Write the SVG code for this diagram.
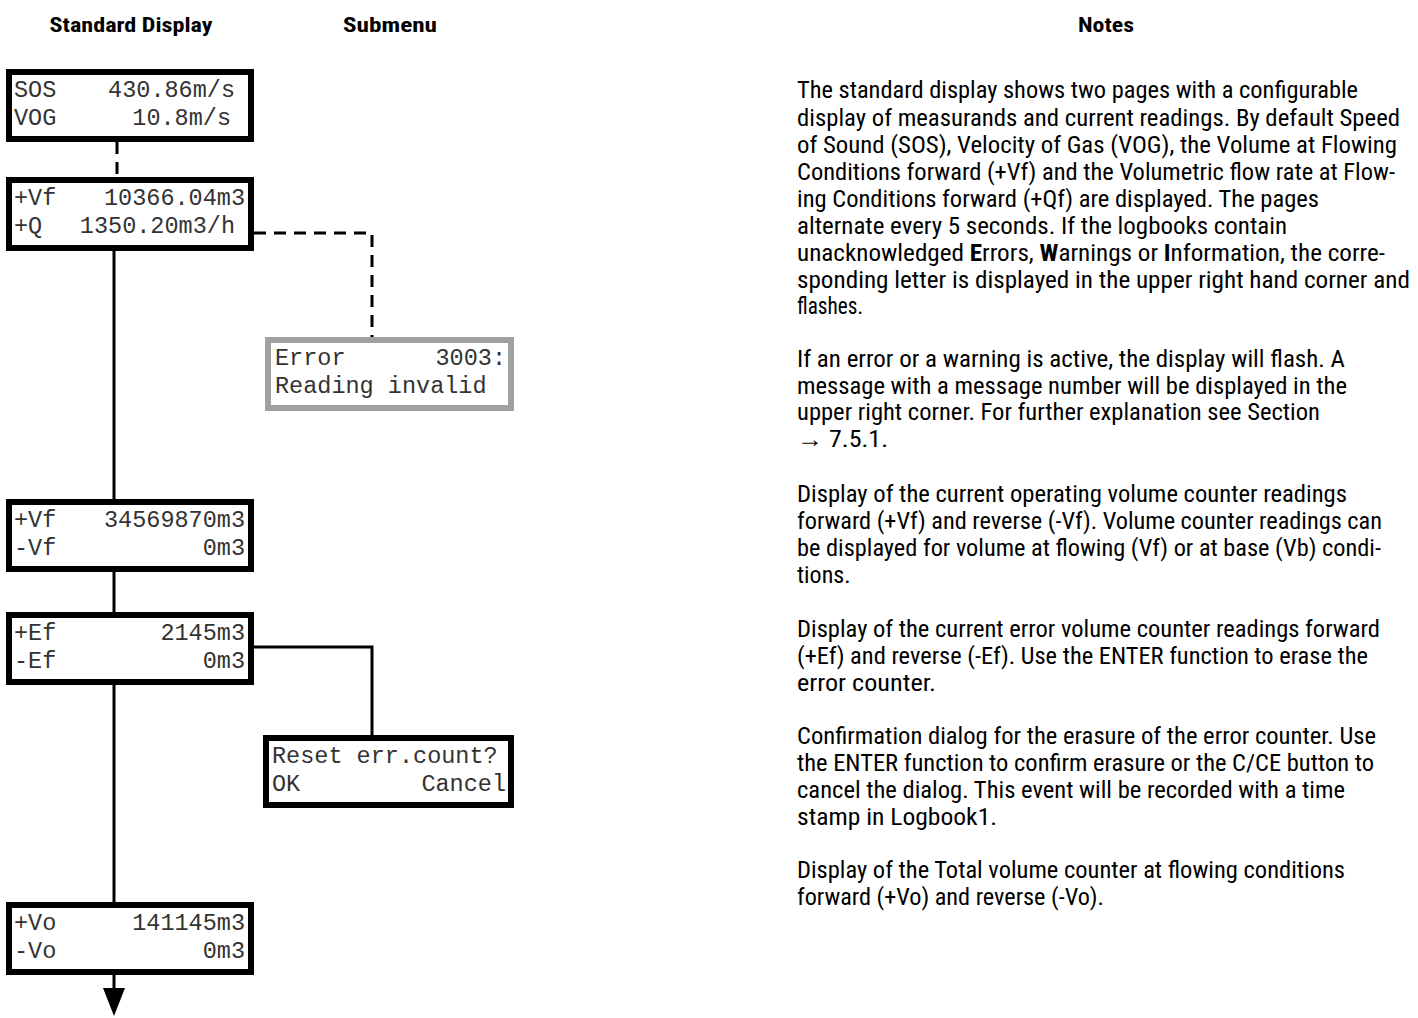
<svg xmlns="http://www.w3.org/2000/svg" width="1418" height="1018" viewBox="0 0 1418 1018">
<style>
.box{fill:#fff;stroke:#000;stroke-width:6}
.gbox{fill:#fff;stroke:#a0a0a0;stroke-width:6}
.lcd{font-family:"Liberation Mono","Courier New",monospace;font-size:23.5px;fill:#333}
.r{text-anchor:end}
.hd{font-family:"Liberation Sans Narrow","Roboto Condensed","Liberation Sans",sans-serif;font-weight:bold;font-size:21px;fill:#000;text-anchor:middle}
.nt{font-family:"Liberation Sans Narrow","Roboto Condensed","Liberation Sans",sans-serif;font-size:24px;fill:#000}
.ln{fill:none;stroke:#000;stroke-width:3}
.dl{fill:none;stroke:#000;stroke-width:3;stroke-dasharray:12 8}
</style>
<g id="headers">
<text class="hd" x="131" y="32" textLength="163" lengthAdjust="spacingAndGlyphs">Standard Display</text>
<text class="hd" x="390" y="32" textLength="94" lengthAdjust="spacingAndGlyphs">Submenu</text>
<text class="hd" x="1106" y="32" textLength="56" lengthAdjust="spacingAndGlyphs">Notes</text>
</g>
<g id="connectors">
<path class="dl" d="M117,142 V177"/>
<path class="dl" d="M254,233 H372 V337"/>
<path class="ln" d="M114,251 V499 M114,572 V612 M114,685 V902 M114,975 V990"/>
<path class="ln" d="M254,647 H372 V735"/>
<polygon points="103,988 125,988 114,1016" fill="#000"/>
</g>
<g id="n-sos">
<rect class="box" x="9" y="72" width="242" height="67"/>
<text class="lcd" x="14" y="97">SOS</text><text class="lcd r" x="235" y="97">430.86m/s</text>
<text class="lcd" x="14" y="125">VOG</text><text class="lcd r" x="231" y="125">10.8m/s</text>
</g>
<g id="n-vf-q">
<rect class="box" x="9" y="180" width="242" height="68"/>
<text class="lcd" x="14" y="205">+Vf</text><text class="lcd r" x="245" y="205">10366.04m3</text>
<text class="lcd" x="14" y="233">+Q</text><text class="lcd r" x="235" y="233">1350.20m3/h</text>
</g>
<g id="n-error">
<rect class="gbox" x="268" y="340" width="243" height="68"/>
<text class="lcd" x="275" y="365">Error</text><text class="lcd r" x="506" y="365">3003:</text>
<text class="lcd" x="275" y="393">Reading invalid</text>
</g>
<g id="n-vf">
<rect class="box" x="9" y="502" width="242" height="67"/>
<text class="lcd" x="14" y="527">+Vf</text><text class="lcd r" x="245" y="527">34569870m3</text>
<text class="lcd" x="14" y="555">-Vf</text><text class="lcd r" x="245" y="555">0m3</text>
</g>
<g id="n-ef">
<rect class="box" x="9" y="615" width="242" height="67"/>
<text class="lcd" x="14" y="640">+Ef</text><text class="lcd r" x="245" y="640">2145m3</text>
<text class="lcd" x="14" y="668">-Ef</text><text class="lcd r" x="245" y="668">0m3</text>
</g>
<g id="n-reset">
<rect class="box" x="266" y="738" width="245" height="67"/>
<text class="lcd" x="272" y="763">Reset err.count?</text>
<text class="lcd" x="272" y="791">OK</text><text class="lcd r" x="506" y="791">Cancel</text>
</g>
<g id="n-vo">
<rect class="box" x="9" y="905" width="242" height="67"/>
<text class="lcd" x="14" y="930">+Vo</text><text class="lcd r" x="245" y="930">141145m3</text>
<text class="lcd" x="14" y="958">-Vo</text><text class="lcd r" x="245" y="958">0m3</text>
</g>
<g id="notes">
<text class="nt" x="797" y="98" textLength="561" lengthAdjust="spacingAndGlyphs">The standard display shows two pages with a configurable</text>
<text class="nt" x="797" y="126" textLength="603" lengthAdjust="spacingAndGlyphs">display of measurands and current readings. By default Speed</text>
<text class="nt" x="797" y="153" textLength="600" lengthAdjust="spacingAndGlyphs">of Sound (SOS), Velocity of Gas (VOG), the Volume at Flowing</text>
<text class="nt" x="797" y="180" textLength="598" lengthAdjust="spacingAndGlyphs">Conditions forward (+Vf) and the Volumetric flow rate at Flow-</text>
<text class="nt" x="797" y="207" textLength="522" lengthAdjust="spacingAndGlyphs">ing Conditions forward (+Qf) are displayed. The pages</text>
<text class="nt" x="797" y="234" textLength="490" lengthAdjust="spacingAndGlyphs">alternate every 5 seconds. If the logbooks contain</text>
<text class="nt" x="797" y="261" textLength="588" lengthAdjust="spacingAndGlyphs">unacknowledged <tspan font-weight="bold">E</tspan>rrors, <tspan font-weight="bold">W</tspan>arnings or <tspan font-weight="bold">I</tspan>nformation, the corre-</text>
<text class="nt" x="797" y="288" textLength="613" lengthAdjust="spacingAndGlyphs">sponding letter is displayed in the upper right hand corner and</text>
<text class="nt" x="797" y="314" textLength="66" lengthAdjust="spacingAndGlyphs">flashes.</text>
<text class="nt" x="797" y="367" textLength="548" lengthAdjust="spacingAndGlyphs">If an error or a warning is active, the display will flash. A</text>
<text class="nt" x="797" y="394" textLength="550" lengthAdjust="spacingAndGlyphs">message with a message number will be displayed in the</text>
<text class="nt" x="797" y="420" textLength="523" lengthAdjust="spacingAndGlyphs">upper right corner. For further explanation see Section</text>
<text class="nt" x="797" y="447" textLength="91" lengthAdjust="spacingAndGlyphs">→ 7.5.1.</text>
<text class="nt" x="797" y="502" textLength="550" lengthAdjust="spacingAndGlyphs">Display of the current operating volume counter readings</text>
<text class="nt" x="797" y="529" textLength="585" lengthAdjust="spacingAndGlyphs">forward (+Vf) and reverse (-Vf). Volume counter readings can</text>
<text class="nt" x="797" y="556" textLength="584" lengthAdjust="spacingAndGlyphs">be displayed for volume at flowing (Vf) or at base (Vb) condi-</text>
<text class="nt" x="797" y="583">tions.</text>
<text class="nt" x="797" y="637" textLength="583" lengthAdjust="spacingAndGlyphs">Display of the current error volume counter readings forward</text>
<text class="nt" x="797" y="664" textLength="571" lengthAdjust="spacingAndGlyphs">(+Ef) and reverse (-Ef). Use the ENTER function to erase the</text>
<text class="nt" x="797" y="691" textLength="139" lengthAdjust="spacingAndGlyphs">error counter.</text>
<text class="nt" x="797" y="744" textLength="579" lengthAdjust="spacingAndGlyphs">Confirmation dialog for the erasure of the error counter. Use</text>
<text class="nt" x="797" y="771" textLength="577" lengthAdjust="spacingAndGlyphs">the ENTER function to confirm erasure or the C/CE button to</text>
<text class="nt" x="797" y="798" textLength="548" lengthAdjust="spacingAndGlyphs">cancel the dialog. This event will be recorded with a time</text>
<text class="nt" x="797" y="825" textLength="200" lengthAdjust="spacingAndGlyphs">stamp in Logbook1.</text>
<text class="nt" x="797" y="878" textLength="548" lengthAdjust="spacingAndGlyphs">Display of the Total volume counter at flowing conditions</text>
<text class="nt" x="797" y="905" textLength="307" lengthAdjust="spacingAndGlyphs">forward (+Vo) and reverse (-Vo).</text>
</g>
</svg>
